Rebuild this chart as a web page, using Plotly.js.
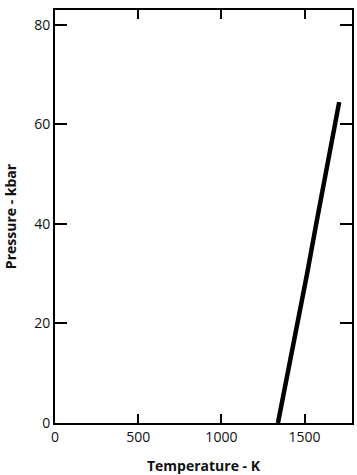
<!DOCTYPE html>
<html>
<head>
<meta charset="utf-8">
<script src="https://cdn.plot.ly/plotly-3.0.1.min.js"></script>
<style>html,body{margin:0;padding:0;background:#fff;}#chart{width:357px;height:475px;}</style>
</head>
<body>
<div id="chart"></div>
<script>
// Melting curve of gold
const pressure_kbar = [0, 10, 20, 30, 40, 50, 60, 64.5];
const temperature_K = [1340, 1400, 1458, 1515, 1570, 1628, 1683, 1708];

const xTickVals = [0, 500, 1000, 1500];
const yTickVals = [0, 20, 40, 60, 80];

const traces = [{
  x: temperature_K, y: pressure_kbar, mode: "lines",
  line: {color: "#000", width: 4.5}, showlegend: false
}];

const layout = {
  width: 357, height: 475,
  margin: {l: 55, r: 5, t: 10, b: 52},
  xaxis: {
    range: [0, 1785], tick0: xTickVals[0], dtick: xTickVals[1] - xTickVals[0],
    ticks: "inside", ticklen: 9, tickwidth: 2, tickcolor: "#000",
    showline: true, linecolor: "#000", linewidth: 2, mirror: "ticks",
    showgrid: false, zeroline: false,
    tickfont: {color: "#111", size: 14},
    title: {text: "<b>Temperature - K</b>", font: {color: "#111", size: 14}}
  },
  yaxis: {
    range: [0, 83], tick0: yTickVals[0], dtick: yTickVals[1] - yTickVals[0],
    ticks: "inside", ticklen: 12, tickwidth: 2, tickcolor: "#000",
    showline: true, linecolor: "#000", linewidth: 2, mirror: "ticks",
    showgrid: false, zeroline: false,
    tickfont: {color: "#111", size: 14},
    title: {text: "<b>Pressure - kbar</b>", font: {color: "#111", size: 14}}
  }
};

Plotly.newPlot("chart", traces, layout, {displayModeBar: false});
</script>
</body>
</html>
